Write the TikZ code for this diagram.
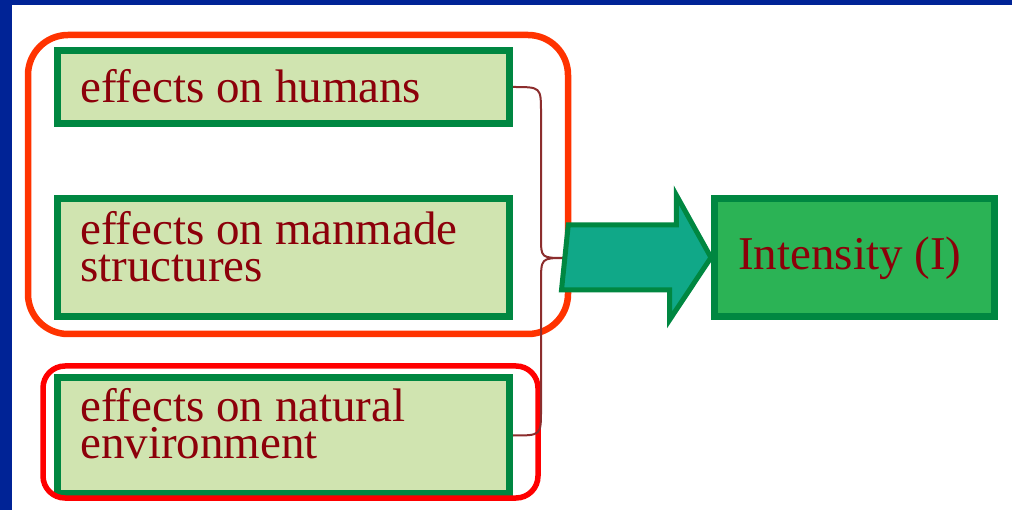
\documentclass[tikz,border=0pt]{standalone}
\usepackage{fontspec}
\setmainfont{Liberation Serif}
\definecolor{slideblue}{RGB}{0,35,150}
\definecolor{boxgreen}{RGB}{0,135,65}
\definecolor{boxfill}{RGB}{208,228,176}
\definecolor{intfill}{RGB}{43,179,85}
\definecolor{arrowfill}{RGB}{16,168,136}
\definecolor{txtred}{RGB}{140,0,10}
\definecolor{bracecol}{RGB}{140,45,45}
\definecolor{grporange}{RGB}{255,51,0}
\begin{document}
\begin{tikzpicture}[x=1pt,y=-1pt,
    effbox/.style={draw=boxgreen, line width=7pt, fill=boxfill, minimum width=452pt, minimum height=118pt, inner sep=0pt},
    efftext/.style={text=txtred, anchor=base west, align=left, inner sep=0pt, font=\fontsize{47}{37}\selectfont}]
        \fill[slideblue] (0,0) rectangle (1012,510);
        \fill[white] (12,5) rectangle (1012,510);
        \node[effbox, minimum height=73pt] (hum) at (283.5,87) {};
        \node[effbox] (man) at (283.5,257.5) {};
        \node[effbox, minimum height=116pt] (nat) at (283.5,435.5) {};
        \node[effbox, fill=intfill, minimum width=280pt] (inten) at (854.5,257.5) {};
        \node[efftext] (humtxt) at (80,103) {effects on humans};
        \node[efftext] (mantxt) at (80,282) {effects on manmade\\structures};
        \node[efftext] (nattxt) at (80,458) {effects on natural\\environment};
        \node[efftext] (inttxt) at (738,270) {Intensity (I)};
        \node[draw=grporange, line width=6.5pt, rounded corners=40pt, minimum width=540pt, minimum height=299pt] (grp) at (298,184.5) {};
        \node[draw=red, line width=5.5pt, rounded corners=22pt, minimum width=495pt, minimum height=132pt] (natgrp) at (290.5,432) {};
        \coordinate (tip) at (565,258);
        \draw[bracecol, line width=2pt] (hum.east) .. controls (541,87) .. (541,113) -- (541,237)
            .. controls (541,258) .. (tip) .. controls (541,258) .. (541,283) -- (541,410)
            .. controls (541,435.5) .. (nat.east);
        \draw[draw=boxgreen, line width=5pt, fill=arrowfill] (grp.east |- inten.west) ++(-3,-32.5) -- ++(108,0) -- ++(0,-30)
            -- (inten.west) -- ++(-41.5,62.5) -- ++(0,-30) -- ++(-108,0) -- cycle;
    \end{tikzpicture}
\end{document}
